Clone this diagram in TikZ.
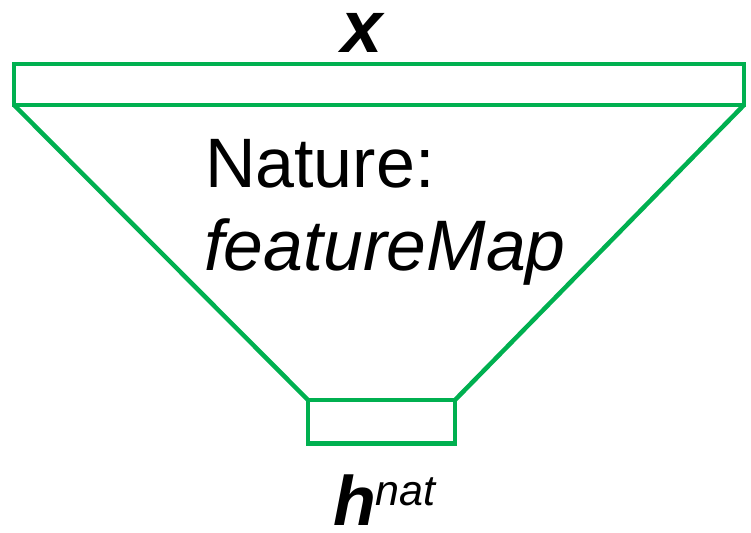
\documentclass[tikz,border=0pt]{standalone}
\usepackage{fontspec}
\setmainfont{Liberation Sans}
\definecolor{boxgreen}{RGB}{0,176,80}
\begin{document}
\begin{tikzpicture}[x=1pt,y=-1pt,
  layer/.style={draw=boxgreen, line width=4.5pt, rectangle, inner sep=0pt, outer sep=0pt},
  funnel/.style={draw=boxgreen, line width=4.5pt, line join=round},
  label/.style={inner sep=0pt, outer sep=0pt, text=black},
  bigtext/.style={label, font=\fontsize{70}{84}\selectfont}]
  \useasboundingbox (0,0) rectangle (751,532);
  % input layer and output layer
  \node[layer, minimum width=730pt, minimum height=41pt] (inp) at (379,84.5) {};
  \node[layer, minimum width=147pt, minimum height=43.5pt] (out) at (381.5,421.75) {};
  % funnel sides
  \draw[funnel] (inp.south west) -- (out.north west);
  \draw[funnel] (inp.south east) -- (out.north east);
  % labels
  \node[bigtext, anchor=base, font=\fontsize{74}{84}\selectfont] (xlab) at (362,53) {\bfseries\itshape x};
  \node[bigtext, anchor=base west] (nat) at (205,187) {Nature:};
  \node[bigtext, anchor=base west, font=\fontsize{71.5}{84}\selectfont] (fmap) at (204,270) {\itshape featureMap};
  \node[bigtext, anchor=base west] (hlab) at (333,525)
    {\bfseries\itshape h\raisebox{20pt}{\fontsize{43}{50}\selectfont\mdseries\itshape nat}};
\end{tikzpicture}
\end{document}
